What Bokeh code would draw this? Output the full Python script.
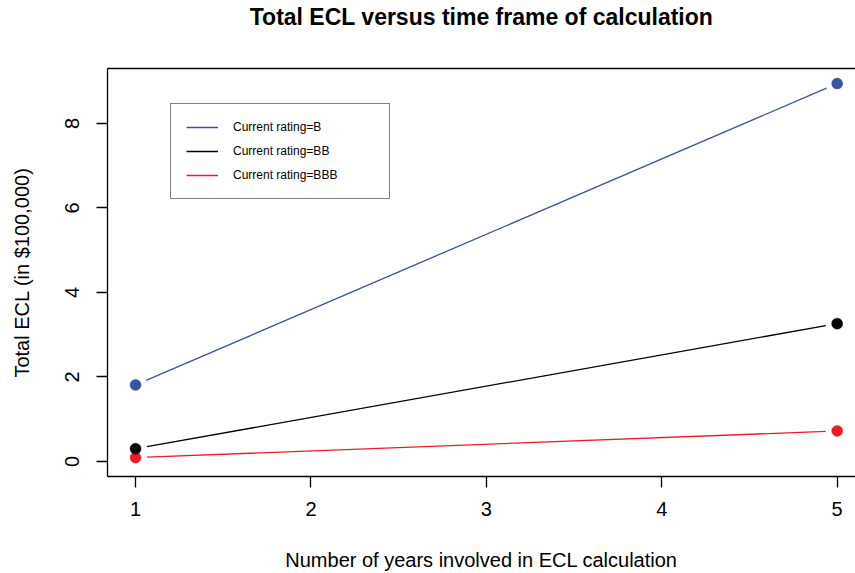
import math

from bokeh.embed import file_html
from bokeh.models import (FixedTicker, Legend, LegendItem, LinearAxis,
                          Range1d)
from bokeh.plotting import figure
from bokeh.resources import INLINE

# Total expected credit loss (in $100,000) by calculation horizon
years = [1, 5]
ecl_b = [1.81, 8.94]
ecl_bb = [0.30, 3.26]
ecl_bbb = [0.09, 0.72]

series_labels = ["Current rating=B", "Current rating=BB", "Current rating=BBB"]
x_ticks = [1, 2, 3, 4, 5]
y_ticks = [0, 2, 4, 6, 8]

BLUE = "#3853A4"
BLACK = "#000000"
RED = "#EC1C24"
FONT = "Liberation Sans"

W, H = 855, 573
LEFT, TOP, BOTTOM, RIGHT = 107, 68, 96, 0
frame_w = W - LEFT - RIGHT
frame_h = H - TOP - BOTTOM

# 4% padding on each side of the data span, like a base-R plot
x_lo = min(years) - 0.04 * (max(years) - min(years))
y_max = max(ecl_b)
y_lo = 0 - 0.04 * y_max
y_hi = y_max + 0.04 * y_max
px_per_x = 175.4
x_hi = x_lo + frame_w / px_per_x
px_per_y = frame_h / (y_hi - y_lo)

p = figure(
    width=W, height=H,
    x_range=Range1d(x_lo, x_hi), y_range=Range1d(y_lo, y_hi),
    output_backend="svg", toolbar_location=None,
    min_border_left=LEFT, min_border_right=RIGHT,
    min_border_top=TOP, min_border_bottom=BOTTOM,
    title="Total ECL versus time frame of calculation",
    x_axis_label="Number of years involved in ECL calculation",
    y_axis_label="Total ECL (in $100,000)",
)
p.background_fill_color = "white"
p.border_fill_color = "white"
p.outline_line_color = None
p.xgrid.visible = False
p.ygrid.visible = False

p.title.align = "center"
p.title.text_font = FONT
p.title.text_font_size = "23px"
p.title.text_font_style = "bold"
p.title.text_color = "black"
p.title.standoff = 0

for ax, ticks in ((p.xaxis[0], x_ticks), (p.yaxis[0], y_ticks)):
    ax.ticker = FixedTicker(ticks=ticks)
    ax.minor_tick_line_color = None
    ax.major_tick_in = 0
    ax.major_tick_out = 11
    ax.major_tick_line_width = 1.3
    ax.axis_line_width = 1.3
    ax.axis_line_color = "black"
    ax.major_tick_line_color = "black"
    ax.major_label_text_font = FONT
    ax.major_label_text_font_size = "20px"
    ax.major_label_text_color = "black"
    ax.axis_label_text_font = FONT
    ax.axis_label_text_font_size = "20px"
    ax.axis_label_text_font_style = "normal"
    ax.axis_label_text_color = "black"

p.xaxis[0].major_label_standoff = 14
p.xaxis[0].axis_label_standoff = 30
p.yaxis[0].major_label_standoff = 17
p.yaxis[0].axis_label_standoff = 30
p.yaxis[0].major_label_orientation = "vertical"

# Top edge of the plotting box; a blank axis label keeps the title clear of it
top = LinearAxis(ticker=FixedTicker(ticks=[]), axis_line_width=1.3,
                 axis_line_color="black",
                 major_tick_in=0, major_tick_out=0, major_label_standoff=0,
                 major_label_text_font_size="0px",
                 minor_tick_line_color=None,
                 axis_label=" ", axis_label_standoff=14,
                 axis_label_text_font=FONT, axis_label_text_font_size="20px")
p.add_layout(top, "above")


def trimmed(xs, ys, gap=11.5):
    """Shorten a segment at both ends so it stops short of the markers."""
    dx = (xs[1] - xs[0]) * px_per_x
    dy = (ys[1] - ys[0]) * px_per_y
    t = gap / math.hypot(dx, dy)
    return ([xs[0] + t * (xs[1] - xs[0]), xs[1] - t * (xs[1] - xs[0])],
            [ys[0] + t * (ys[1] - ys[0]), ys[1] - t * (ys[1] - ys[0])])


series = [(ecl_b, BLUE), (ecl_bb, BLACK), (ecl_bbb, RED)]
line_renderers = []
for vals, color in series:
    lx, ly = trimmed(years, vals)
    line_renderers.append(p.line(lx, ly, line_color=color, line_width=1.3))

# markers: red first so the black one sits on top where they overlap
for vals, color in (series[0], series[2], series[1]):
    p.scatter(years, vals, size=11, fill_color=color, line_color=color,
              line_width=0.5)

legend = Legend(
    items=[LegendItem(label=lab, renderers=[r])
           for lab, r in zip(series_labels, line_renderers)],
    location=(63, 277),
    padding=15, spacing=8,
    glyph_width=32, glyph_height=16,
    label_height=16, label_width=141, label_standoff=15,
    label_text_font=FONT, label_text_font_size="12px",
    label_text_color="black",
    border_line_color="black", border_line_width=1.3,
    background_fill_color="white", background_fill_alpha=1.0,
)
p.add_layout(legend, "center")

open("out.html", "w").write(file_html(p, INLINE))
